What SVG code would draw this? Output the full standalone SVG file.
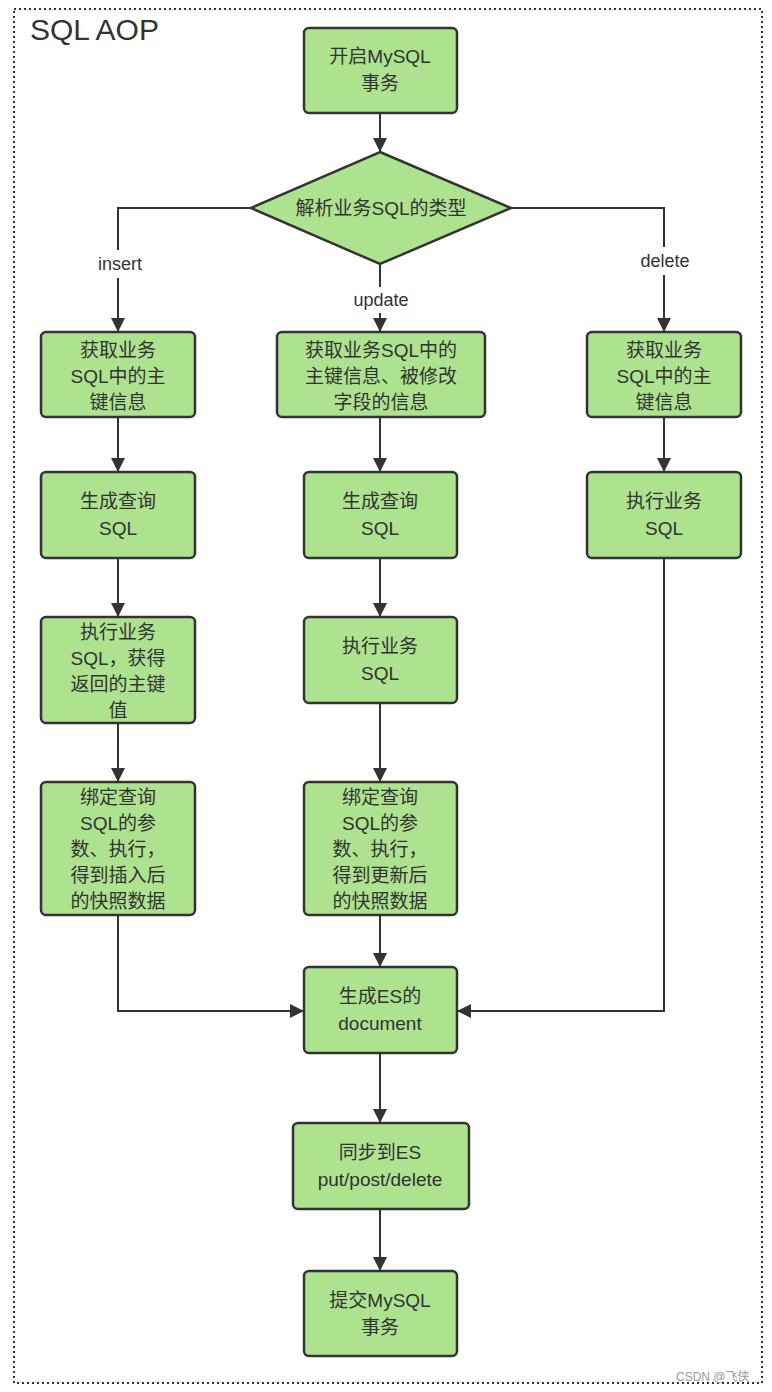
<svg xmlns="http://www.w3.org/2000/svg" width="772" height="1392" viewBox="0 0 772 1392">
<style>
.n{fill:#ade28f;stroke:#333;stroke-width:2.5}
.t{font-family:"Liberation Sans","Noto Sans CJK SC",sans-serif;font-size:19px;fill:#333;text-anchor:middle}
.l{font-family:"Liberation Sans","Noto Sans CJK SC",sans-serif;font-size:18px;fill:#333;text-anchor:middle}
.c{fill:none;stroke:#333;stroke-width:2}
</style>
<defs><marker id="a" viewBox="0 0 10 10" refX="10" refY="5" markerWidth="7" markerHeight="7" orient="auto" markerUnits="userSpaceOnUse"><path d="M0,0L10,5L0,10z" fill="#333"/></marker>
<marker id="b" viewBox="0 0 10 10" refX="10" refY="5" markerWidth="14" markerHeight="14" orient="auto" markerUnits="userSpaceOnUse"><path d="M0,0L10,5L0,10z" fill="#333"/></marker></defs>
<rect x="14" y="9" width="748" height="1374" fill="#fff" stroke="#333" stroke-width="2" stroke-dasharray="2,3"/>
<text x="30" y="40" style="font-family:'Liberation Sans',sans-serif;font-size:30px;fill:#333">SQL AOP</text>
<g id="connectors">
<path class="c" marker-end="url(#b)" d="M380,113V152"/>
<path class="c" d="M251,208H118V250"/><path class="c" marker-end="url(#b)" d="M118,278V332"/>
<path class="c" d="M380,264V287"/><path class="c" marker-end="url(#b)" d="M380,313V332"/>
<path class="c" d="M511,208H664V247"/><path class="c" marker-end="url(#b)" d="M664,275V332"/>
<path class="c" marker-end="url(#b)" d="M118,417V472"/>
<path class="c" marker-end="url(#b)" d="M118,558V617"/>
<path class="c" marker-end="url(#b)" d="M118,723V782"/>
<path class="c" marker-end="url(#b)" d="M118,915V1011H304"/>
<path class="c" marker-end="url(#b)" d="M380,417V472"/>
<path class="c" marker-end="url(#b)" d="M380,558V617"/>
<path class="c" marker-end="url(#b)" d="M380,703V782"/>
<path class="c" marker-end="url(#b)" d="M380,915V967"/>
<path class="c" marker-end="url(#b)" d="M664,417V472"/>
<path class="c" marker-end="url(#b)" d="M664,558V1011H457"/>
<path class="c" marker-end="url(#b)" d="M380,1053V1123"/>
<path class="c" marker-end="url(#b)" d="M380,1209V1271"/>
<text class="l" x="120" y="270">insert</text>
<text class="l" x="381" y="306">update</text>
<text class="l" x="665" y="267">delete</text>
</g>
<g id="start"><rect class="n" x="304" y="28" width="153" height="85" rx="5"/><text class="t" x="380" y="63">开启MySQL</text><text class="t" x="380" y="90">事务</text></g>
<g id="decide"><path class="n" d="M380,152L511,208L380,264L251,208Z"/><text class="t" x="381" y="215">解析业务SQL的类型</text></g>
<g id="i1"><rect class="n" x="41" y="332" width="154" height="85" rx="5"/><text class="t" x="118" y="357">获取业务</text><text class="t" x="118" y="383">SQL中的主</text><text class="t" x="118" y="409">键信息</text></g>
<g id="i2"><rect class="n" x="41" y="472" width="154" height="86" rx="5"/><text class="t" x="118" y="508">生成查询</text><text class="t" x="118" y="535">SQL</text></g>
<g id="i3"><rect class="n" x="41" y="617" width="154" height="106" rx="5"/><text class="t" x="118" y="639">执行业务</text><text class="t" x="118" y="665">SQL，获得</text><text class="t" x="118" y="691">返回的主键</text><text class="t" x="118" y="717">值</text></g>
<g id="i4"><rect class="n" x="41" y="782" width="154" height="133" rx="5"/><text class="t" x="118" y="804">绑定查询</text><text class="t" x="118" y="830">SQL的参</text><text class="t" x="118" y="856">数、执行，</text><text class="t" x="118" y="882">得到插入后</text><text class="t" x="118" y="908">的快照数据</text></g>
<g id="u1"><rect class="n" x="277" y="332" width="208" height="85" rx="5"/><text class="t" x="381" y="357">获取业务SQL中的</text><text class="t" x="381" y="383">主键信息、被修改</text><text class="t" x="381" y="409">字段的信息</text></g>
<g id="u2"><rect class="n" x="304" y="472" width="153" height="86" rx="5"/><text class="t" x="380" y="508">生成查询</text><text class="t" x="380" y="535">SQL</text></g>
<g id="u3"><rect class="n" x="304" y="617" width="153" height="86" rx="5"/><text class="t" x="380" y="653">执行业务</text><text class="t" x="380" y="680">SQL</text></g>
<g id="u4"><rect class="n" x="304" y="782" width="153" height="133" rx="5"/><text class="t" x="380" y="804">绑定查询</text><text class="t" x="380" y="830">SQL的参</text><text class="t" x="380" y="856">数、执行，</text><text class="t" x="380" y="882">得到更新后</text><text class="t" x="380" y="908">的快照数据</text></g>
<g id="d1"><rect class="n" x="587" y="332" width="154" height="85" rx="5"/><text class="t" x="664" y="357">获取业务</text><text class="t" x="664" y="383">SQL中的主</text><text class="t" x="664" y="409">键信息</text></g>
<g id="d2"><rect class="n" x="587" y="472" width="154" height="86" rx="5"/><text class="t" x="664" y="508">执行业务</text><text class="t" x="664" y="535">SQL</text></g>
<g id="es"><rect class="n" x="304" y="967" width="153" height="86" rx="5"/><text class="t" x="380" y="1003">生成ES的</text><text class="t" x="380" y="1030">document</text></g>
<g id="sync"><rect class="n" x="293" y="1123" width="176" height="86" rx="5"/><text class="t" x="380" y="1159">同步到ES</text><text class="t" x="380" y="1186">put/post/delete</text></g>
<g id="commit"><rect class="n" x="304" y="1271" width="153" height="85" rx="5"/><text class="t" x="380" y="1307">提交MySQL</text><text class="t" x="380" y="1334">事务</text></g>
<text x="676" y="1381" style="font-family:'Liberation Sans','Noto Sans CJK SC',sans-serif;font-size:12px;fill:#999">CSDN @飞侠</text>
</svg>
